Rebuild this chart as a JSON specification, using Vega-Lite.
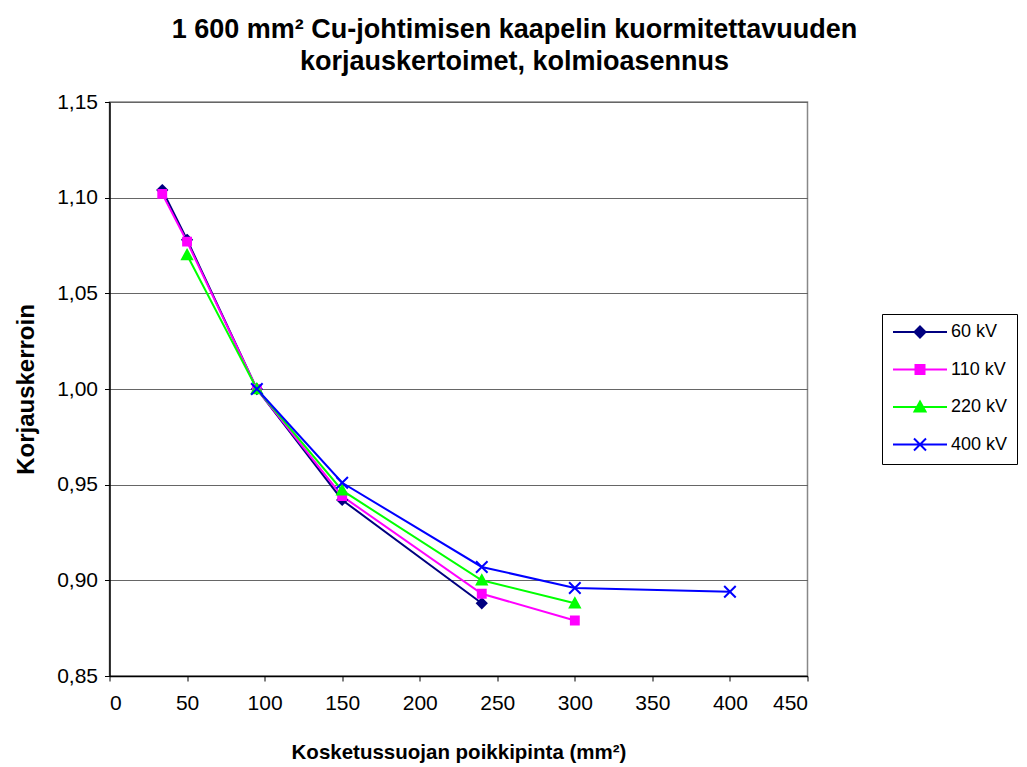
{
  "$schema": "https://vega.github.io/schema/vega-lite/v6.json",
  "width": 698,
  "height": 574,
  "autosize": {"type": "none"},
  "padding": {"left": 109.5, "top": 102, "right": 219.5, "bottom": 91},
  "background": "white",
  "config": {
    "font": "Liberation Sans",
    "view": {"stroke": "#888888", "strokeWidth": 1.5},
    "axis": {
      "labelFont": "Liberation Sans",
      "titleFont": "Liberation Sans",
      "labelFontSize": 21,
      "labelColor": "#000000",
      "titleFontSize": 20.5,
      "titleFontWeight": "bold",
      "titleColor": "#000000",
      "domainColor": "#000000",
      "domainWidth": 1.5,
      "tickColor": "#000000",
      "tickSize": 5,
      "tickWidth": 1
    }
  },
  "title": {
    "text": ["1 600 mm² Cu-johtimisen kaapelin kuormitettavuuden", "korjauskertoimet, kolmioasennus"],
    "font": "Liberation Sans",
    "fontSize": 27,
    "fontWeight": "bold",
    "color": "#000000",
    "anchor": "middle",
    "frame": "group",
    "dx": 56,
    "lineHeight": 32,
    "offset": 15
  },
  "data": {
    "values": [
      {"series": "60 kV", "x": 34, "y": 1.104},
      {"series": "60 kV", "x": 50, "y": 1.078},
      {"series": "60 kV", "x": 95, "y": 1.0},
      {"series": "60 kV", "x": 150, "y": 0.942},
      {"series": "60 kV", "x": 240, "y": 0.888},
      {"series": "110 kV", "x": 34, "y": 1.102},
      {"series": "110 kV", "x": 50, "y": 1.077},
      {"series": "110 kV", "x": 95, "y": 1.0},
      {"series": "110 kV", "x": 150, "y": 0.944},
      {"series": "110 kV", "x": 240, "y": 0.893},
      {"series": "110 kV", "x": 300, "y": 0.879},
      {"series": "220 kV", "x": 50, "y": 1.07},
      {"series": "220 kV", "x": 95, "y": 1.0},
      {"series": "220 kV", "x": 150, "y": 0.947},
      {"series": "220 kV", "x": 240, "y": 0.9},
      {"series": "220 kV", "x": 300, "y": 0.888},
      {"series": "400 kV", "x": 95, "y": 1.0},
      {"series": "400 kV", "x": 150, "y": 0.951},
      {"series": "400 kV", "x": 240, "y": 0.907},
      {"series": "400 kV", "x": 300, "y": 0.896},
      {"series": "400 kV", "x": 400, "y": 0.894}
    ]
  },
  "encoding": {
    "x": {
      "field": "x",
      "type": "quantitative",
      "scale": {"domain": [0, 450], "nice": false, "zero": false},
      "axis": {
        "title": "Kosketussuojan poikkipinta (mm²)",
        "values": [0, 50, 100, 150, 200, 250, 300, 350, 400, 450],
        "grid": false,
        "labelPadding": 11,
        "titlePadding": 29
      }
    },
    "y": {
      "field": "y",
      "type": "quantitative",
      "scale": {"domain": [0.85, 1.15], "nice": false, "zero": false},
      "axis": {
        "title": "Korjauskerroin",
        "titleFontSize": 24,
        "values": [0.85, 0.9, 0.95, 1.0, 1.05, 1.1, 1.15],
        "labelExpr": "replace(format(datum.value, '.2f'), '.', ',')",
        "grid": true,
        "gridColor": "#666666",
        "gridWidth": 1,
        "labelPadding": 7,
        "titlePadding": 18
      }
    }
  },
  "layer": [
    {
      "mark": {"type": "line", "strokeWidth": 2},
      "encoding": {
        "color": {
          "field": "series",
          "type": "nominal",
          "scale": {"domain": ["60 kV", "110 kV", "220 kV", "400 kV"], "range": ["#000080", "#FF00FF", "#00FF00", "#0000FF"]},
          "legend": null
        },
        "order": {"field": "x", "type": "quantitative"}
      }
    },
    {
      "mark": {"type": "point", "filled": true, "opacity": 1, "size": 110, "strokeWidth": 2},
      "encoding": {
        "color": {
          "field": "series",
          "type": "nominal",
          "scale": {"domain": ["60 kV", "110 kV", "220 kV", "400 kV"], "range": ["#000080", "#FF00FF", "#00FF00", "#0000FF"]},
          "legend": null
        },
        "stroke": {
          "field": "series",
          "type": "nominal",
          "scale": {"domain": ["60 kV", "110 kV", "220 kV", "400 kV"], "range": ["#000080", "#FF00FF", "#00FF00", "#0000FF"]},
          "legend": null
        },
        "shape": {
          "field": "series",
          "type": "nominal",
          "scale": {
            "domain": ["60 kV", "110 kV", "220 kV", "400 kV"],
            "range": [
              "M0,-0.9L0.9,0L0,0.9L-0.9,0Z",
              "M-0.75,-0.75H0.75V0.75H-0.75Z",
              "M0,-0.95L0.95,0.8H-0.95Z",
              "M-1.1,-1.1L1.1,1.1M-1.1,1.1L1.1,-1.1"
            ]
          },
          "legend": null
        }
      }
    },
    {
      "mark": {"type": "point", "filled": true, "opacity": 0, "size": 100, "strokeWidth": 2},
      "encoding": {
        "color": {
          "field": "series",
          "type": "nominal",
          "scale": {"domain": ["60 kV", "110 kV", "220 kV", "400 kV"], "range": ["#000080", "#FF00FF", "#00FF00", "#0000FF"]}
        },
        "stroke": {
          "field": "series",
          "type": "nominal",
          "scale": {"domain": ["60 kV", "110 kV", "220 kV", "400 kV"], "range": ["#000080", "#FF00FF", "#00FF00", "#0000FF"]}
        },
        "shape": {
          "field": "series",
          "type": "nominal",
          "scale": {
            "domain": ["60 kV", "110 kV", "220 kV", "400 kV"],
            "range": [
              "M-1.4,0H9.4M4,-1.1L5.1,0L4,1.1L2.9,0Z",
              "M-1.4,0H9.4M3.1,-0.9H4.9V0.9H3.1Z",
              "M-1.4,0H9.4M4,-1.1L5.1,0.9H2.9Z",
              "M-1.4,0H9.4M2.8,-1.2L5.2,1.2M2.8,1.2L5.2,-1.2"
            ]
          },
          "legend": {
            "title": null,
            "orient": "none",
            "legendX": 772.5,
            "legendY": 212,
            "padding": 9,
            "rowPadding": 18.5,
            "labelFontSize": 18,
            "labelFont": "Liberation Sans",
            "labelColor": "#000000",
            "labelOffset": 42,
            "symbolOpacity": 1,
            "symbolStrokeWidth": 2,
            "strokeColor": "#000000",
            "fillColor": "#ffffff"
          }
        }
      }
    }
  ],
  "resolve": {"scale": {"shape": "independent", "color": "independent", "stroke": "independent"}}
}
